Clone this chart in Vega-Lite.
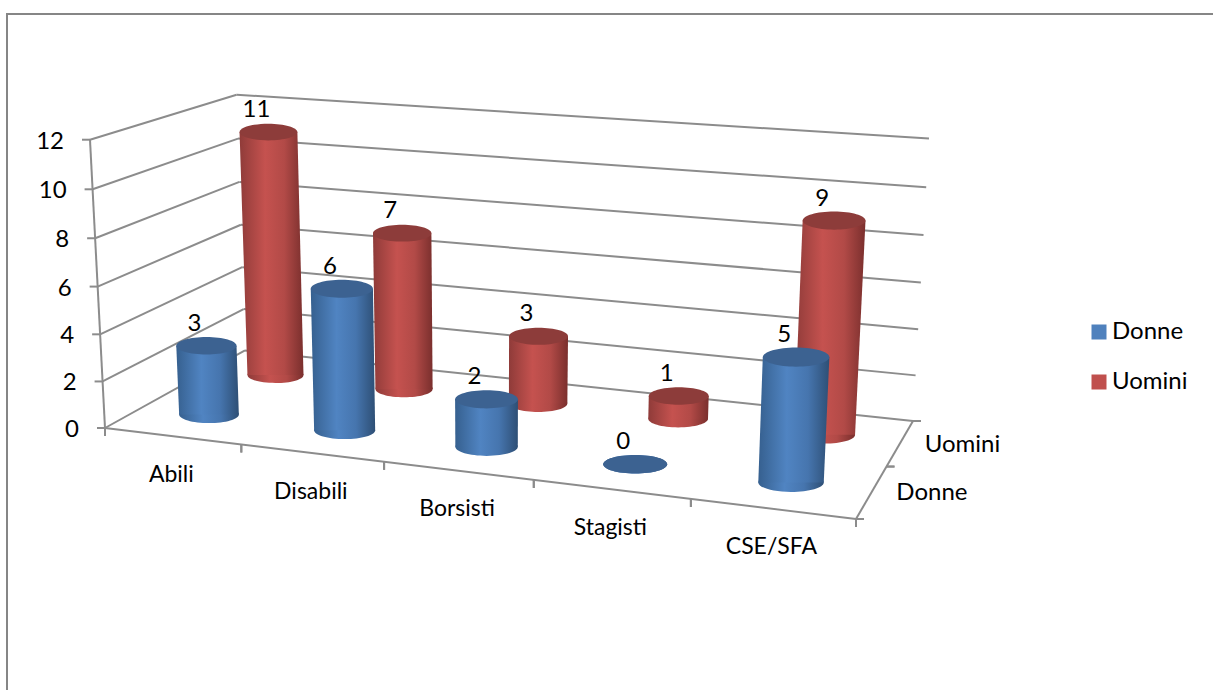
{
"$schema":"https://vega.github.io/schema/vega-lite/v6.json",
"width":1210,"height":680,
"autosize":{"type":"none"},
"padding":{"left":7,"top":14,"right":0,"bottom":0},
"background":"white",
"view":{"stroke":"#868686","strokeWidth":2,"fill":"white"},
"datasets":{
"bars":[
{"category":"Abili","series":"Donne","value":3},
{"category":"Disabili","series":"Donne","value":6},
{"category":"Borsisti","series":"Donne","value":2},
{"category":"Stagisti","series":"Donne","value":0},
{"category":"CSE/SFA","series":"Donne","value":5},
{"category":"Abili","series":"Uomini","value":11},
{"category":"Disabili","series":"Uomini","value":7},
{"category":"Borsisti","series":"Uomini","value":3},
{"category":"Stagisti","series":"Uomini","value":1},
{"category":"CSE/SFA","series":"Uomini","value":9}
],
"ticks":[{"value":0},{"value":2},{"value":4},{"value":6},{"value":8},{"value":10},{"value":12}],
"categories":[{"category":"Abili"},{"category":"Disabili"},{"category":"Borsisti"},{"category":"Stagisti"},{"category":"CSE/SFA"}],
"seriesNames":[{"series":"Donne"},{"series":"Uomini"}]
},
"layer":[
{"data":{"name":"ticks"},
"transform":[
{"calculate":"datum.value/12","as":"t"},
{"calculate":"['left','back']","as":"wall"},
{"flatten":["wall"]},
{"calculate":"0","as":"ua"},
{"calculate":"datum.wall=='left'?0:1","as":"va"},
{"calculate":"datum.wall=='left'?0:1","as":"ub"},
{"calculate":"1","as":"vb"},
{"calculate":"(654.38*datum.ua+172.8*datum.va+105-18.36*datum.t)/(1-0.11287*datum.ua+0.13388*datum.va-0.0373*datum.t)","as":"xa"},
{"calculate":"(32.42*datum.ua-30.58*datum.va+428-293.5*datum.t)/(1-0.11287*datum.ua+0.13388*datum.va-0.0373*datum.t)","as":"ya"},
{"calculate":"(654.38*datum.ub+172.8*datum.vb+105-18.36*datum.t)/(1-0.11287*datum.ub+0.13388*datum.vb-0.0373*datum.t)","as":"xb"},
{"calculate":"(32.42*datum.ub-30.58*datum.vb+428-293.5*datum.t)/(1-0.11287*datum.ub+0.13388*datum.vb-0.0373*datum.t)","as":"yb"}
],
"mark":{"type":"rule","stroke":"#8c8c8c","strokeWidth":2},
"encoding":{
"x":{"field":"xa","type":"quantitative","scale":{"domain":[7,1217]},"axis":null},
"y":{"field":"ya","type":"quantitative","scale":{"domain":[694,14]},"axis":null},
"x2":{"field":"xb"},"y2":{"field":"yb"}}
},
{"data":{"name":"ticks"},
"transform":[
{"filter":"datum.value==12"},
{"calculate":"['vertical','front','right']","as":"seg"},
{"flatten":["seg"]},
{"calculate":"datum.seg=='right'?1:0","as":"ua"},
{"calculate":"0","as":"va"},
{"calculate":"datum.seg=='vertical'?0:1","as":"ub"},
{"calculate":"datum.seg=='right'?1:0","as":"vb"},
{"calculate":"datum.seg=='vertical'?1:0","as":"tb"},
{"calculate":"(654.38*datum.ua+172.8*datum.va+105)/(1-0.11287*datum.ua+0.13388*datum.va)","as":"xa"},
{"calculate":"(32.42*datum.ua-30.58*datum.va+428)/(1-0.11287*datum.ua+0.13388*datum.va)","as":"ya"},
{"calculate":"(654.38*datum.ub+172.8*datum.vb+105-18.36*datum.tb)/(1-0.11287*datum.ub+0.13388*datum.vb-0.0373*datum.tb)","as":"xb"},
{"calculate":"(32.42*datum.ub-30.58*datum.vb+428-293.5*datum.tb)/(1-0.11287*datum.ub+0.13388*datum.vb-0.0373*datum.tb)","as":"yb"}
],
"mark":{"type":"rule","stroke":"#8c8c8c","strokeWidth":2},
"encoding":{
"x":{"field":"xa","type":"quantitative","scale":{"domain":[7,1217]},"axis":null},
"y":{"field":"ya","type":"quantitative","scale":{"domain":[694,14]},"axis":null},
"x2":{"field":"xb"},"y2":{"field":"yb"}}
},
{"data":{"name":"ticks"},
"transform":[
{"calculate":"datum.value/12","as":"t"},
{"calculate":"(105-18.36*datum.t)/(1-0.0373*datum.t)","as":"X"},
{"calculate":"(428-293.5*datum.t)/(1-0.0373*datum.t)","as":"Y"},
{"calculate":"datum.X-8","as":"Xt"},
{"calculate":"datum.X-26","as":"Xl"},
{"calculate":"datum.Y+2","as":"Yl"}
],
"layer":[
{"mark":{"type":"rule","stroke":"#8c8c8c","strokeWidth":2},
"encoding":{
"x":{"field":"Xt","type":"quantitative","scale":{"domain":[7,1217]},"axis":null},
"x2":{"field":"X"},
"y":{"field":"Y","type":"quantitative","scale":{"domain":[694,14]},"axis":null}}},
{"mark":{"type":"text","font":"Lato","fontSize":24,"align":"right","baseline":"middle","color":"black"},
"encoding":{
"x":{"field":"Xl","type":"quantitative","scale":{"domain":[7,1217]},"axis":null},
"y":{"field":"Yl","type":"quantitative","scale":{"domain":[694,14]},"axis":null},
"text":{"field":"value","type":"nominal"}}}
]},
{"data":{"name":"categories"},
"transform":[
{"calculate":"indexof(['Abili','Disabili','Borsisti','Stagisti','CSE/SFA'],datum.category)","as":"i"},
{"calculate":"[datum.i,datum.i+1]","as":"edge"},
{"flatten":["edge"]},
{"calculate":"datum.edge/5","as":"u"},
{"calculate":"(654.38*datum.u+105)/(1-0.11287*datum.u)","as":"X"},
{"calculate":"(32.42*datum.u+428)/(1-0.11287*datum.u)","as":"Y"},
{"calculate":"datum.Y+8","as":"Yt"}
],
"mark":{"type":"rule","stroke":"#8c8c8c","strokeWidth":2},
"encoding":{
"x":{"field":"X","type":"quantitative","scale":{"domain":[7,1217]},"axis":null},
"y":{"field":"Y","type":"quantitative","scale":{"domain":[694,14]},"axis":null},
"y2":{"field":"Yt"}}
},
{"data":{"name":"categories"},
"transform":[
{"calculate":"(indexof(['Abili','Disabili','Borsisti','Stagisti','CSE/SFA'],datum.category)+0.5)/5","as":"u"},
{"calculate":"(654.38*datum.u+105)/(1-0.11287*datum.u)-1","as":"X"},
{"calculate":"(32.42*datum.u+428)/(1-0.11287*datum.u)+38.5","as":"Y"}
],
"mark":{"type":"text","font":"Lato","fontSize":23,"align":"center","baseline":"middle","color":"black"},
"encoding":{
"x":{"field":"X","type":"quantitative","scale":{"domain":[7,1217]},"axis":null},
"y":{"field":"Y","type":"quantitative","scale":{"domain":[694,14]},"axis":null},
"text":{"field":"category","type":"nominal"}}
},
{"data":{"name":"seriesNames"},
"transform":[
{"calculate":"datum.series=='Donne'?0.25:0.75","as":"v"},
{"calculate":"(759.38+172.8*datum.v)/(0.88713+0.13388*datum.v)","as":"X"},
{"calculate":"(460.42-30.58*datum.v)/(0.88713+0.13388*datum.v)","as":"Y"},
{"calculate":"datum.X+24.5","as":"Xl"},
{"calculate":"datum.Y+1.5","as":"Yl"}
],
"mark":{"type":"text","font":"Lato","fontSize":24,"align":"left","baseline":"middle","color":"black"},
"encoding":{
"x":{"field":"Xl","type":"quantitative","scale":{"domain":[7,1217]},"axis":null},
"y":{"field":"Yl","type":"quantitative","scale":{"domain":[694,14]},"axis":null},
"text":{"field":"series","type":"nominal"}}
},
{"data":{"name":"seriesNames"},
"transform":[
{"calculate":"['a','b','c']","as":"k"},
{"flatten":["k"]},
{"calculate":"datum.k=='a'?0:(datum.k=='b'?0.5:1)","as":"v"},
{"calculate":"(759.38+172.8*datum.v)/(0.88713+0.13388*datum.v)","as":"X"},
{"calculate":"(460.42-30.58*datum.v)/(0.88713+0.13388*datum.v)","as":"Y"},
{"calculate":"datum.X+8","as":"Xt"}
],
"mark":{"type":"rule","stroke":"#8c8c8c","strokeWidth":2},
"encoding":{
"x":{"field":"X","type":"quantitative","scale":{"domain":[7,1217]},"axis":null},
"x2":{"field":"Xt"},
"y":{"field":"Y","type":"quantitative","scale":{"domain":[694,14]},"axis":null}}
},
{"data":{"name":"bars"},
"transform":[
{"calculate":"(indexof(['Abili','Disabili','Borsisti','Stagisti','CSE/SFA'],datum.category)+0.5)/5","as":"u"},
{"calculate":"datum.series=='Donne'?0.25:0.75","as":"v"},
{"calculate":"[0,1]","as":"end"},
{"flatten":["end"]},
{"calculate":"datum.end*datum.value/12","as":"t"},
{"calculate":"1-0.11287*datum.u+0.13388*datum.v-0.0373*datum.t","as":"D"},
{"calculate":"(654.38*datum.u+172.8*datum.v+105-18.36*datum.t)/datum.D","as":"X"},
{"calculate":"(32.42*datum.u-30.58*datum.v+428-293.5*datum.t)/datum.D","as":"Y"},
{"calculate":"61/datum.D","as":"w"},
{"calculate":"datum.X-datum.w/2","as":"xl"},
{"calculate":"datum.X+datum.w/2","as":"xr"},
{"calculate":"datum.w*datum.w","as":"s"},
{"calculate":"datum.X-12","as":"Xl"},
{"calculate":"datum.Y-22","as":"Yl"}
],
"layer":[
{"transform":[{"filter":"datum.series=='Uomini'&&datum.end==0"}],
"mark":{"type":"point","filled":true,"opacity":1,"strokeWidth":0,"shape":"M-1,0A1,0.29 0 1,1 1,0A1,0.29 0 1,1 -1,0Z","fill":{"gradient":"linear","x1":0,"y1":0,"x2":1,"y2":0,"stops":[{"offset":0,"color":"#8f3b39"},{"offset":0.4,"color":"#c5524f"},{"offset":0.7,"color":"#b24a47"},{"offset":1,"color":"#7a2f2d"}]}},
"encoding":{
"x":{"field":"X","type":"quantitative","scale":{"domain":[7,1217]},"axis":null},
"y":{"field":"Y","type":"quantitative","scale":{"domain":[694,14]},"axis":null},
"size":{"field":"s","type":"quantitative","scale":null}}},
{"transform":[{"filter":"datum.series=='Uomini'"}],
"mark":{"type":"area","orient":"horizontal","strokeWidth":0,"opacity":1,"fill":{"gradient":"linear","x1":0,"y1":0,"x2":1,"y2":0,"stops":[{"offset":0,"color":"#8f3b39"},{"offset":0.4,"color":"#c5524f"},{"offset":0.7,"color":"#b24a47"},{"offset":1,"color":"#7a2f2d"}]}},
"encoding":{
"y":{"field":"Y","type":"quantitative","scale":{"domain":[694,14]},"axis":null},
"x":{"field":"xl","type":"quantitative","scale":{"domain":[7,1217]},"axis":null,"stack":null},
"x2":{"field":"xr"},
"detail":{"field":"category"}}},
{"transform":[{"filter":"datum.series=='Uomini'&&datum.end==1"}],
"mark":{"type":"point","filled":true,"opacity":1,"strokeWidth":0,"shape":"M-1,0A1,0.29 0 1,1 1,0A1,0.29 0 1,1 -1,0Z","fill":"#8d3c3a"},
"encoding":{
"x":{"field":"X","type":"quantitative","scale":{"domain":[7,1217]},"axis":null},
"y":{"field":"Y","type":"quantitative","scale":{"domain":[694,14]},"axis":null},
"size":{"field":"s","type":"quantitative","scale":null}}},
{"transform":[{"filter":"datum.series=='Donne'&&datum.end==0"}],
"mark":{"type":"point","filled":true,"opacity":1,"strokeWidth":0,"shape":"M-1,0A1,0.29 0 1,1 1,0A1,0.29 0 1,1 -1,0Z","fill":{"gradient":"linear","x1":0,"y1":0,"x2":1,"y2":0,"stops":[{"offset":0,"color":"#36608f"},{"offset":0.4,"color":"#5084c2"},{"offset":0.7,"color":"#4675ae"},{"offset":1,"color":"#2e4f75"}]}},
"encoding":{
"x":{"field":"X","type":"quantitative","scale":{"domain":[7,1217]},"axis":null},
"y":{"field":"Y","type":"quantitative","scale":{"domain":[694,14]},"axis":null},
"size":{"field":"s","type":"quantitative","scale":null}}},
{"transform":[{"filter":"datum.series=='Donne'"}],
"mark":{"type":"area","orient":"horizontal","strokeWidth":0,"opacity":1,"fill":{"gradient":"linear","x1":0,"y1":0,"x2":1,"y2":0,"stops":[{"offset":0,"color":"#36608f"},{"offset":0.4,"color":"#5084c2"},{"offset":0.7,"color":"#4675ae"},{"offset":1,"color":"#2e4f75"}]}},
"encoding":{
"y":{"field":"Y","type":"quantitative","scale":{"domain":[694,14]},"axis":null},
"x":{"field":"xl","type":"quantitative","scale":{"domain":[7,1217]},"axis":null,"stack":null},
"x2":{"field":"xr"},
"detail":{"field":"category"}}},
{"transform":[{"filter":"datum.series=='Donne'&&datum.end==1"}],
"mark":{"type":"point","filled":true,"opacity":1,"strokeWidth":0,"shape":"M-1,0A1,0.29 0 1,1 1,0A1,0.29 0 1,1 -1,0Z","fill":"#3c6291"},
"encoding":{
"x":{"field":"X","type":"quantitative","scale":{"domain":[7,1217]},"axis":null},
"y":{"field":"Y","type":"quantitative","scale":{"domain":[694,14]},"axis":null},
"size":{"field":"s","type":"quantitative","scale":null}}},
{"transform":[{"filter":"datum.end==1"}],
"mark":{"type":"text","font":"Lato","fontSize":24,"align":"center","baseline":"middle","color":"black"},
"encoding":{
"x":{"field":"Xl","type":"quantitative","scale":{"domain":[7,1217]},"axis":null},
"y":{"field":"Yl","type":"quantitative","scale":{"domain":[694,14]},"axis":null},
"text":{"field":"value","type":"nominal"}}},
{"mark":{"type":"point","filled":true,"opacity":1,"size":0},
"encoding":{
"x":{"field":"X","type":"quantitative","scale":{"domain":[7,1217]},"axis":null},
"y":{"field":"Y","type":"quantitative","scale":{"domain":[694,14]},"axis":null},
"color":{"field":"series","type":"nominal","scale":{"domain":["Donne","Uomini"],"range":["#4f81bd","#c0504d"]},
"legend":{"title":null,"orient":"none","legendX":1080,"legendY":306,"padding":0,"symbolType":"square","symbolSize":225,"symbolStrokeWidth":0,"symbolOpacity":1,"labelFont":"Lato","labelFontSize":24,"labelColor":"black","labelOffset":1,"rowPadding":26}}}}
]}
]
}
